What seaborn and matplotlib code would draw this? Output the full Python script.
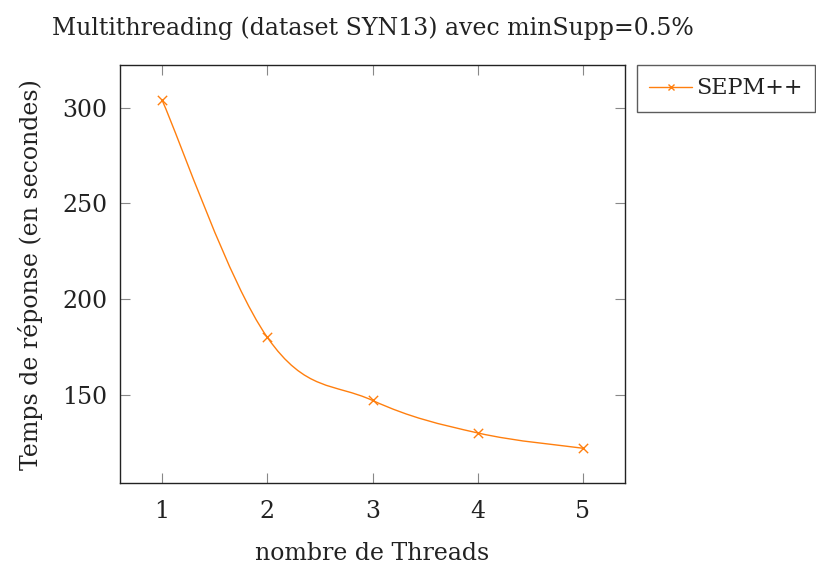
import numpy as np
import matplotlib
matplotlib.use("Agg")
import matplotlib.pyplot as plt
import seaborn as sns
from matplotlib.path import Path
from matplotlib.patches import PathPatch
from matplotlib.lines import Line2D

# data
threads = [1, 2, 3, 4, 5]
temps = [304, 180, 147, 130, 122]
serie = "SEPM++"
orange = "#ff7f0e"

sns.set_theme(style="white")
plt.rcParams['font.family'] = ['DejaVu Serif']
plt.rcParams['mathtext.fontset'] = 'dejavuserif'

fig = plt.figure(figsize=(8.16, 5.67), dpi=100)
ax = fig.add_axes([0.147, 0.148, 0.619, 0.737])

# markers from seaborn
sns.scatterplot(x=threads, y=temps, marker="x", color=orange,
                s=45, linewidth=1.0, ax=ax, zorder=3)

# smooth curve like tikz "smooth"
pts = np.column_stack([threads, temps]).astype(float)
t = 0.55 / 3
verts = [pts[0]]
codes = [Path.MOVETO]
n = len(pts)
for i in range(n - 1):
    p0 = pts[i - 1] if i > 0 else pts[i]
    p1 = pts[i]
    p2 = pts[i + 1]
    p3 = pts[i + 2] if i + 2 < n else pts[i + 1]
    c1 = p1 + t * (p2 - p0)
    c2 = p2 - t * (p3 - p1)
    verts += [c1, c2, p2]
    codes += [Path.CURVE4] * 3
ax.add_patch(PathPatch(Path(verts, codes), facecolor="none", edgecolor=orange, lw=1.0))

ax.set_xlim(0.6, 5.4)
ax.set_ylim(103.8, 322.2)
ax.set_xticks(threads)
ax.set_yticks([150, 200, 250, 300])

for s in ax.spines.values():
    s.set_color("#222222")
    s.set_linewidth(1.0)
ax.tick_params(direction="in", length=7, width=0.8, color="#888888",
               top=True, right=True, bottom=True, left=True,
               labelsize=17, labelcolor="#222222", pad=9)
ax.tick_params(axis="x", pad=12)

ax.set_xlabel("nombre de Threads", fontsize=17, color="#222222", labelpad=14)
ax.set_ylabel("Temps de réponse (en secondes)", fontsize=17, color="#222222", labelpad=14)
ax.set_title("Multithreading (dataset SYN13) avec minSupp=0.5%", fontsize=17,
             color="#222222", pad=22)

handle = Line2D([], [], color=orange, marker="x", lw=1.0, markersize=5)
leg = ax.legend([handle], [serie], loc="upper left", bbox_to_anchor=(1.024, 1.0),
                frameon=True, fancybox=False, fontsize=16, handlelength=1.9,
                borderaxespad=0, handletextpad=0.2, borderpad=0.55)
leg.get_frame().set_edgecolor("#333333")
leg.get_frame().set_linewidth(1.0)
for txt in leg.get_texts():
    txt.set_color("#222222")

fig.savefig("out.png", dpi=100)
